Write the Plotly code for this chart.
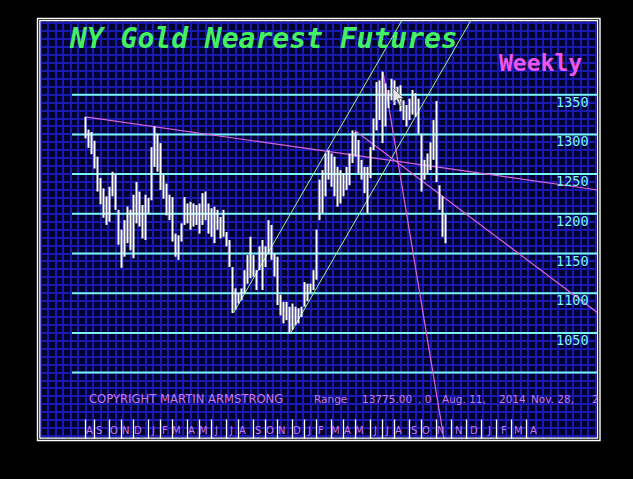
import plotly.graph_objects as go

# ---------------- data ----------------
weeks = list(range(121))
highs = [1322, 1306, 1303, 1292, 1272, 1245, 1232, 1222, 1234, 1253,
         1250, 1205, 1180, 1192, 1209, 1205, 1224, 1240, 1228, 1211,
         1224, 1220, 1284, 1310, 1301, 1289, 1249, 1238, 1224, 1221,
         1175, 1173, 1188, 1221, 1213, 1215, 1213, 1211, 1213, 1226,
         1228, 1213, 1207, 1209, 1205, 1196, 1205, 1177, 1167, 1133,
         1106, 1100, 1106, 1129, 1148, 1171, 1148, 1129, 1159, 1167,
         1159, 1192, 1186, 1150, 1146, 1098, 1089, 1089, 1083, 1087,
         1083, 1081, 1083, 1114, 1112, 1112, 1129, 1180, 1243, 1255,
         1276, 1280, 1276, 1272, 1259, 1255, 1251, 1259, 1276, 1305,
         1303, 1293, 1268, 1259, 1259, 1284, 1320, 1366, 1368, 1379,
         1364, 1356, 1370, 1368, 1360, 1362, 1343, 1337, 1345, 1356,
         1352, 1345, 1301, 1268, 1276, 1290, 1318, 1342, 1236, 1222,
         1199]
lows = [1295, 1283, 1275, 1257, 1228, 1212, 1195, 1186, 1190, 1222,
        1205, 1161, 1132, 1146, 1163, 1154, 1144, 1188, 1184, 1169,
        1167, 1200, 1217, 1259, 1253, 1230, 1219, 1198, 1192, 1165,
        1146, 1142, 1165, 1186, 1188, 1180, 1184, 1186, 1175, 1186,
        1192, 1175, 1171, 1163, 1180, 1169, 1171, 1159, 1133, 1075,
        1079, 1087, 1091, 1100, 1112, 1119, 1121, 1104, 1129, 1104,
        1133, 1150, 1142, 1121, 1085, 1072, 1062, 1066, 1049, 1054,
        1060, 1062, 1070, 1083, 1090, 1100, 1104, 1117, 1192, 1201,
        1222, 1243, 1234, 1222, 1209, 1213, 1222, 1230, 1236, 1264,
        1272, 1251, 1243, 1226, 1200, 1245, 1280, 1305, 1318, 1289,
        1310, 1333, 1343, 1337, 1345, 1329, 1318, 1310, 1318, 1325,
        1322, 1301, 1228, 1243, 1251, 1255, 1268, 1240, 1205, 1171,
        1163]

levels = [1350, 1300, 1250, 1200, 1150, 1100, 1050, 1000]
level_labels = ["1350", "1300", "1250", "1200", "1150", "1100", "1050", ""]

tick_weeks = [0, 3, 8, 12, 16, 21, 25, 29, 34, 38, 42, 47, 51, 56, 60, 64,
              69, 73, 77, 82, 86, 90, 95, 99, 103, 108, 112, 117,
              122, 127, 132, 137, 142, 147]
month_labels = ["A", "S", "O", "N", "D", "J", "F", "M", "A", "M", "J", "J",
                "A", "S", "O", "N", "D", "J", "F", "M", "A", "M", "J", "J",
                "A", "S", "O", "N", "N", "D", "J", "F", "M", "A"]
last_data_week = 120

# trend lines (week, price) pairs
green_lines = [[(49.3, 1075), (105.7, 1445)],
               [(68.4, 1050), (128.7, 1445)]]
magenta_lines = [[(0, 1322), (170.8, 1230)],
                 [(99.2, 1378), (119.5, 916)],
                 [(89.8, 1305), (170.8, 1075)]]

title_text = "NY Gold Nearest Futures"
period_text = "Weekly"
footer_words = [("COPYRIGHT MARTIN ARMSTRONG", 87, 11.6), ("Range", 312, 10.5),
                ("13775.00", 360, 10.5), (". 0", 416, 10.5), ("Aug. 11,", 440, 10.5),
                ("2014", 497, 10.5), ("Nov. 28,", 529, 10.5), ("2", 590, 10.5)]

# ---------------- geometry ----------------
W, H = 633, 479
L, R, T, B = 39, 598, 20, 439
X_RANGE = [-15.5, 170.83]
Y_RANGE = [916.37, 1444.08]


def px_x(px):
    return (px - L) / (R - L)


def px_y(py):
    return (B - py) / (B - T)


def px_to_week(px):
    return X_RANGE[0] + (px - L) / (R - L) * (X_RANGE[1] - X_RANGE[0])


def py_to_price(py):
    return Y_RANGE[1] - (py - T) / (B - T) * (Y_RANGE[1] - Y_RANGE[0])


fig = go.Figure()

# cyan price levels
for lv in levels:
    fig.add_trace(go.Scatter(x=[px_to_week(72), X_RANGE[1]], y=[lv, lv], mode="lines",
                             line=dict(color="#78f6f6", width=2), hoverinfo="skip"))

# trend lines
for ln in green_lines:
    fig.add_trace(go.Scatter(x=[p[0] for p in ln], y=[p[1] for p in ln], mode="lines",
                             line=dict(color="#96f896", width=1), hoverinfo="skip"))
for ln in magenta_lines:
    fig.add_trace(go.Scatter(x=[p[0] for p in ln], y=[p[1] for p in ln], mode="lines",
                             line=dict(color="#dc64dc", width=1.2), hoverinfo="skip"))

# weekly high-low bars
bx, by = [], []
for w, h, l in zip(weeks, highs, lows):
    bx += [w, w, None]
    by += [l, h, None]
fig.add_trace(go.Scatter(x=bx, y=by, mode="lines",
                         line=dict(color="white", width=2), hoverinfo="skip"))

shapes = []
# month tick marks
for tw in tick_weeks:
    shapes.append(dict(type="line", xref="x", yref="paper", x0=tw, x1=tw,
                       y0=px_y(439), y1=px_y(419.5),
                       line=dict(color="white", width=1.3)))
# double border
shapes.append(dict(type="rect", xref="paper", yref="paper",
                   x0=px_x(37.5), x1=px_x(600), y0=px_y(440.5), y1=px_y(18.5),
                   line=dict(color="white", width=1.4)))
shapes.append(dict(type="rect", xref="paper", yref="paper",
                   x0=px_x(39.8), x1=px_x(597.6), y0=px_y(438.2), y1=px_y(20.6),
                   line=dict(color="white", width=1.2)))
# mouse pointer
cur = [(393, 88), (393, 103), (396.5, 99.5), (399.5, 106), (401.5, 105),
       (398.5, 98.5), (403.5, 98.5)]
path = "M " + " L ".join(f"{px_to_week(a):.3f},{py_to_price(b):.3f}" for a, b in cur) + " Z"
shapes.append(dict(type="path", xref="x", yref="y", path=path,
                   fillcolor="#e8e8e8", line=dict(color="#404040", width=0.6)))

annotations = []
annotations.append(dict(text=title_text, xref="paper", yref="paper",
                        x=px_x(67), y=px_y(38.5), xanchor="left", yanchor="middle",
                        showarrow=False,
                        font=dict(family="DejaVu Sans Mono", size=28, color="#44f060",
                                  weight="bold", style="italic")))
annotations.append(dict(text=period_text, xref="paper", yref="paper",
                        x=px_x(497), y=px_y(62.5), xanchor="left", yanchor="middle",
                        showarrow=False,
                        font=dict(family="DejaVu Sans Mono", size=23, color="#ee55ee",
                                  weight="bold")))
for lv, lab in zip(levels, level_labels):
    if lab:
        annotations.append(dict(text=lab, xref="paper", yref="y", x=px_x(591), y=lv,
                                xanchor="right", yanchor="middle", yshift=-7,
                                showarrow=False,
                                font=dict(family="DejaVu Sans Mono", size=13.5,
                                          color="#78f6f6")))
for tw, lab in zip(tick_weeks, month_labels):
    off = 4.4 if tw <= last_data_week else 7.4
    annotations.append(dict(text=lab, xref="x", yref="paper", x=tw + off / 3.0,
                            y=px_y(430.5), xanchor="center", yanchor="middle",
                            showarrow=False,
                            font=dict(family="DejaVu Sans", size=10, color="#c878f0")))
for word, pxpos, fs in footer_words:
    annotations.append(dict(text=word, xref="paper", yref="paper", x=px_x(pxpos),
                            y=px_y(398.5), xanchor="left", yanchor="middle",
                            showarrow=False,
                            font=dict(family="DejaVu Sans", size=fs, color="#c878f0")))

fig.update_layout(
    width=W, height=H,
    margin=dict(l=L, r=W - R, t=T, b=H - B, pad=0),
    paper_bgcolor="black", plot_bgcolor="#00002c",
    showlegend=False,
    shapes=shapes, annotations=annotations,
    xaxis=dict(range=X_RANGE, showticklabels=False, zeroline=False,
               showgrid=True, gridcolor="#1a1ab0", gridwidth=2, dtick=2.5, tick0=0,
               fixedrange=True),
    yaxis=dict(range=Y_RANGE, showticklabels=False, zeroline=False,
               showgrid=True, gridcolor="#1a1ab0", gridwidth=2, dtick=10, tick0=0,
               fixedrange=True),
)

fig.write_html("out.html", config={"displayModeBar": False},
               post_script="document.body.style.margin='0';document.body.style.background='black';")
